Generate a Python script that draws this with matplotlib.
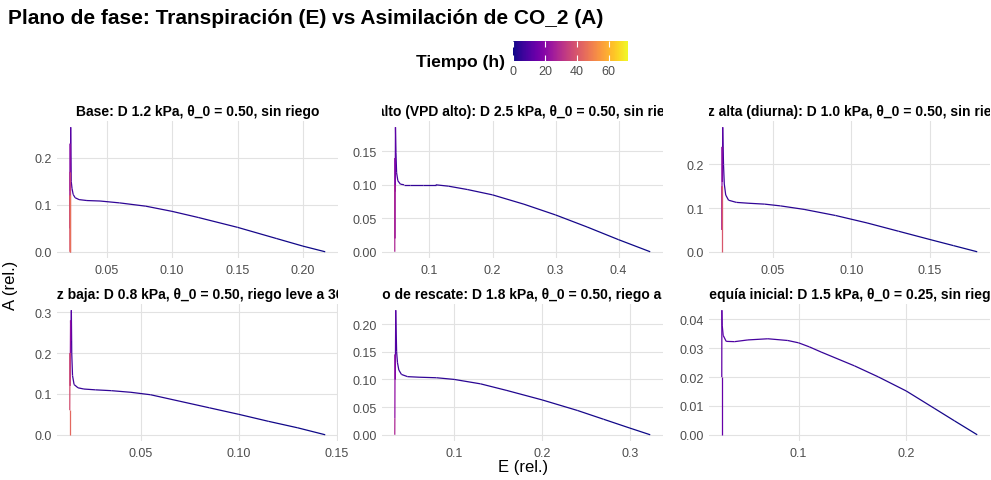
import numpy as np
import matplotlib
matplotlib.use("Agg")
import matplotlib.pyplot as plt
from matplotlib.collections import LineCollection
from matplotlib.colors import Normalize
from matplotlib.cm import ScalarMappable
from matplotlib.transforms import Bbox, TransformedBbox, offset_copy
from matplotlib.ticker import FormatStrFormatter

plt.rcParams['font.family'] = ['Liberation Sans', 'DejaVu Sans']

# Trayectorias (E, A) de cada escenario, con el tiempo (h) de cada punto
titulos = [
    "Base: D 1.2 kPa, θ_0 = 0.50, sin riego",
    "D alto (VPD alto): D 2.5 kPa, θ_0 = 0.50, sin riego",
    "Luz alta (diurna): D 1.0 kPa, θ_0 = 0.50, sin riego",
    "Luz baja: D 0.8 kPa, θ_0 = 0.50, riego leve a 36 h",
    "Riego de rescate: D 1.8 kPa, θ_0 = 0.50, riego a 36 h",
    "Sequía inicial: D 1.5 kPa, θ_0 = 0.25, sin riego",
]

E_base = [0.217, 0.20, 0.18, 0.15, 0.12, 0.10, 0.08, 0.06, 0.045, 0.035, 0.029, 0.026, 0.0245, 0.0236, 0.0230,
          0.0226, 0.0224, 0.0222, 0.0221, 0.0220, 0.0220, 0.0219, 0.0219]
A_base = [0.0, 0.012, 0.028, 0.052, 0.073, 0.086, 0.097, 0.104, 0.108, 0.109, 0.111, 0.115, 0.122, 0.135, 0.15,
          0.265, 0.13, 0.23, 0.05, 0.17, 0.0, 0.12, 0.0]
t_base = [0, 0.5, 1, 1.8, 2.6, 3.2, 3.8, 4.5, 5.2, 5.8, 6.4, 7, 7.5, 8, 8.5,
          11, 16, 22, 28, 34, 40, 46, 72]

E_vpd = [0.45, 0.40, 0.35, 0.30, 0.25, 0.20, 0.16, 0.13, 0.11, 0.09, 0.07, 0.06, 0.054, 0.050, 0.048, 0.047,
         0.0462, 0.0458, 0.0455, 0.0453, 0.0452, 0.0451]
A_vpd = [0.0, 0.018, 0.037, 0.055, 0.071, 0.085, 0.093, 0.098, 0.100, 0.100, 0.100, 0.100, 0.101, 0.106, 0.118, 0.148,
         0.186, 0.09, 0.14, 0.02, 0.10, 0.0]
t_vpd = [0, 0.5, 1, 1.5, 2, 2.6, 3.2, 3.8, 4.4, 5, 5.6, 6.2, 6.8, 7.4, 8, 8.6,
         12, 16, 20, 24, 28, 72]

E_luz_alta = [0.180, 0.165, 0.15, 0.13, 0.11, 0.09, 0.07, 0.055, 0.045, 0.035, 0.027, 0.022, 0.0202, 0.0193, 0.0188,
              0.0183, 0.0181, 0.0179, 0.0178, 0.0177, 0.0177]
A_luz_alta = [0.0, 0.014, 0.028, 0.047, 0.066, 0.083, 0.097, 0.105, 0.109, 0.111, 0.113, 0.118, 0.13, 0.155, 0.20,
              0.285, 0.16, 0.24, 0.05, 0.15, 0.0]
t_luz_alta = [0, 0.5, 1, 1.6, 2.2, 2.8, 3.4, 4, 4.6, 5.2, 5.8, 6.4, 7, 7.6, 8.2,
              11, 16, 22, 30, 40, 72]

E_luz_baja = [0.144, 0.13, 0.115, 0.10, 0.085, 0.07, 0.055, 0.045, 0.035, 0.027, 0.021, 0.018, 0.016, 0.0152, 0.0148,
              0.0146, 0.0144, 0.0142, 0.0140, 0.0139, 0.0138, 0.0138]
A_luz_baja = [0.0, 0.017, 0.033, 0.050, 0.066, 0.082, 0.098, 0.104, 0.108, 0.110, 0.112, 0.115, 0.123, 0.145, 0.20,
              0.305, 0.23, 0.28, 0.12, 0.20, 0.06, 0.0]
t_luz_baja = [0, 0.5, 1, 1.6, 2.2, 2.8, 3.4, 4, 4.6, 5.2, 5.8, 6.4, 7, 7.6, 8.2,
              11, 16, 22, 30, 38, 44, 72]

E_rescate = [0.323, 0.30, 0.27, 0.24, 0.20, 0.16, 0.13, 0.10, 0.08, 0.06, 0.047, 0.040, 0.037, 0.0355, 0.0345,
             0.0335, 0.0330, 0.0327, 0.0325, 0.0324]
A_rescate = [0.0, 0.012, 0.028, 0.044, 0.063, 0.080, 0.092, 0.100, 0.103, 0.104, 0.105, 0.109, 0.117, 0.13, 0.15,
             0.225, 0.10, 0.145, 0.03, 0.0]
t_rescate = [0, 0.5, 1, 1.6, 2.2, 2.8, 3.4, 4, 4.6, 5.2, 5.8, 6.4, 7, 7.6, 8.2,
             11, 16, 22, 28, 72]

E_sequia = [0.266, 0.245, 0.226, 0.2, 0.174, 0.152, 0.121, 0.11, 0.1, 0.09, 0.0715, 0.053, 0.0406, 0.0328, 0.030,
            0.0291, 0.0288, 0.0287, 0.0287]
A_sequia = [0.0, 0.0048, 0.0092, 0.0152, 0.0201, 0.0239, 0.0287, 0.0305, 0.0319, 0.0327, 0.0333, 0.0329, 0.0323,
            0.0324, 0.0345, 0.038, 0.0432, 0.02, 0.0]
t_sequia = [0, 1, 2, 3, 4, 5, 6, 6.5, 7, 7.5, 8, 9, 10, 11, 11.5, 12, 12.5, 14, 72]

series = [
    (E_base, A_base, t_base),
    (E_vpd, A_vpd, t_vpd),
    (E_luz_alta, A_luz_alta, t_luz_alta),
    (E_luz_baja, A_luz_baja, t_luz_baja),
    (E_rescate, A_rescate, t_rescate),
    (E_sequia, A_sequia, t_sequia),
]

xticks = [[0.05, 0.10, 0.15, 0.20], [0.1, 0.2, 0.3, 0.4], [0.05, 0.10, 0.15],
          [0.05, 0.10, 0.15], [0.1, 0.2, 0.3], [0.1, 0.2]]
yticks = [[0.0, 0.1, 0.2], [0.0, 0.05, 0.10, 0.15], [0.0, 0.1, 0.2],
          [0.0, 0.1, 0.2, 0.3], [0.0, 0.05, 0.10, 0.15, 0.20], [0.0, 0.01, 0.02, 0.03, 0.04]]
xfmt = ['%.2f', '%.1f', '%.2f', '%.2f', '%.1f', '%.1f']
yfmt = ['%.1f', '%.2f', '%.1f', '%.1f', '%.2f', '%.2f']
cbar_ticks = [0, 20, 40, 60]

W, H = 991, 481
fig = plt.figure(figsize=(W / 100, H / 100), dpi=100)
fig.patch.set_facecolor('white')

t_max = max(max(s[2]) for s in series)
norm = Normalize(vmin=0, vmax=t_max)
cmap = plt.get_cmap('plasma')

lefts = [57, 382, 709]
tops = [122, 305]
pw, ph = 281, 137

grey = '#4D4D4D'
for i, (E, A, t) in enumerate(series):
    r, c = divmod(i, 3)
    ax = fig.add_axes([lefts[c] / W, 1 - (tops[r] + ph) / H, pw / W, ph / H])
    pts = np.column_stack([E, A])
    segs = np.stack([pts[:-1], pts[1:]], axis=1)
    lc = LineCollection(segs, cmap=cmap, norm=norm, linewidths=0.9)
    lc.set_array(np.asarray(t[:-1], dtype=float))
    ax.add_collection(lc)
    ax.margins(0.05)
    ax.autoscale_view()

    ax.set_xticks(xticks[i])
    ax.set_yticks(yticks[i])
    ax.xaxis.set_major_formatter(FormatStrFormatter(xfmt[i]))
    ax.yaxis.set_major_formatter(FormatStrFormatter(yfmt[i]))
    ax.tick_params(length=0, labelsize=9, labelcolor=grey, pad=4)
    ax.grid(color='#E2E2E2', linewidth=0.8)
    ax.set_axisbelow(True)
    for sp in ax.spines.values():
        sp.set_visible(False)

    # Título de la faceta, recortado al ancho del panel
    tr = offset_copy(ax.transAxes, fig=fig, x=0, y=2.5, units='points')
    txt = ax.text(0.5, 1.0, titulos[i], transform=tr, ha='center', va='bottom',
                  fontsize=10, fontweight='bold', color='black')
    txt.set_clip_box(TransformedBbox(Bbox([[0, 0], [1, 1.4]]), ax.transAxes))
    txt.set_clip_on(True)

fig.text(8 / W, 1 - 18 / H, "Plano de fase: Transpiración (E) vs Asimilación de CO_2 (A)",
         fontsize=15, fontweight='bold', va='center', ha='left')
fig.text(523 / W, 1 - 468 / H, "E (rel.)", fontsize=12, ha='center', va='center')
fig.text(10 / W, 1 - 285 / H, "A (rel.)", fontsize=12, ha='center', va='center', rotation=90)

# Barra de color del tiempo
cax = fig.add_axes([513 / W, 1 - 62 / H, 115 / W, 20 / H])
cb = fig.colorbar(ScalarMappable(norm=norm, cmap=cmap), cax=cax, orientation='horizontal')
cb.outline.set_visible(False)
cb.set_ticks(cbar_ticks)
cax.xaxis.set_ticks_position('both')
cax.tick_params(axis='x', direction='in', color='white', length=4, width=0.8,
                labelsize=9, labelcolor=grey, pad=3, labeltop=False, labelbottom=True)
fig.text(505 / W, 1 - 62 / H, "Tiempo (h)", fontsize=12.5, fontweight='bold', ha='right', va='center')

fig.savefig("out.png", dpi=100, facecolor='white')
